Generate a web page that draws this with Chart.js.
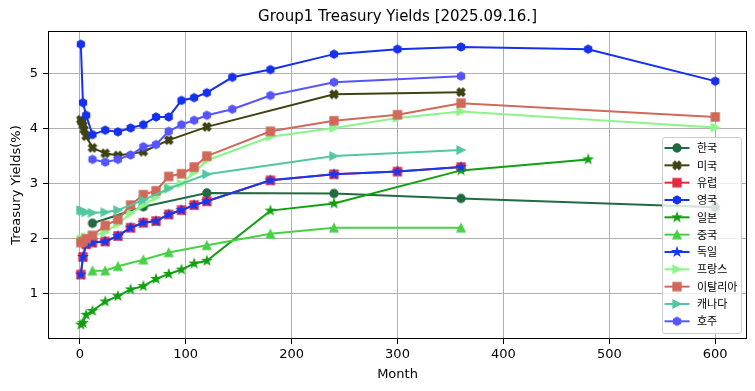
<!DOCTYPE html>
<html><head><meta charset="utf-8">
<script src="https://cdn.jsdelivr.net/npm/chart.js@4.4.1/dist/chart.umd.min.js"></script>
<style>html,body{margin:0;padding:0;background:#fff;}canvas{display:block;}</style>
</head><body>
<canvas id="c" width="755" height="391"></canvas>
<script>
// ---------------- DATA ----------------
const seriesNames = ['한국','미국','유럽','영국','일본','중국','독일','프랑스','이탈리아','캐나다','호주'];

const koreaMonths = [12, 60, 120, 240, 360, 600];
const koreaYields = [2.28, 2.58, 2.83, 2.82, 2.73, 2.57];

const usMonths = [1, 2, 3, 4, 6, 12, 24, 36, 60, 84, 120, 240, 360];
const usYields = [4.16, 4.12, 4.06, 3.98, 3.86, 3.65, 3.55, 3.51, 3.58, 3.79, 4.03, 4.62, 4.66];

const euroMonths = [1, 3, 6, 12, 24, 36, 48, 60, 72, 84, 96, 108, 120, 180, 240, 300, 360];
const euroYields = [1.35, 1.67, 1.90, 1.93, 1.95, 2.05, 2.20, 2.29, 2.32, 2.44, 2.52, 2.61, 2.68, 3.06, 3.17, 3.22, 3.30];

const ukMonths = [1, 3, 6, 12, 24, 36, 48, 60, 72, 84, 96, 108, 120, 144, 180, 240, 300, 360, 480, 600];
const ukYields = [5.53, 4.47, 4.24, 3.89, 3.97, 3.94, 4.01, 4.07, 4.21, 4.21, 4.51, 4.56, 4.65, 4.93, 5.07, 5.35, 5.44, 5.48, 5.44, 4.86];

const japanMonths = [1, 3, 6, 12, 24, 36, 48, 60, 72, 84, 96, 108, 120, 180, 240, 360, 480];
const japanYields = [0.44, 0.47, 0.62, 0.69, 0.86, 0.96, 1.08, 1.14, 1.27, 1.36, 1.44, 1.55, 1.60, 2.51, 2.64, 3.24, 3.44];

const chinaMonths = [12, 24, 36, 60, 84, 120, 180, 240, 360];
const chinaYields = [1.42, 1.42, 1.50, 1.62, 1.75, 1.88, 2.09, 2.20, 2.20];

const germanyMonths = [1, 3, 6, 12, 24, 36, 48, 60, 72, 84, 96, 108, 120, 180, 240, 300, 360];
const germanyYields = [1.35, 1.67, 1.90, 1.93, 1.95, 2.05, 2.20, 2.29, 2.32, 2.44, 2.52, 2.61, 2.68, 3.06, 3.17, 3.22, 3.30];

const franceMonths = [1, 3, 6, 12, 24, 36, 48, 60, 72, 84, 96, 108, 120, 180, 240, 300, 360, 600];
const franceYields = [1.98, 2.00, 2.03, 2.06, 2.12, 2.27, 2.46, 2.61, 2.75, 2.93, 3.00, 3.20, 3.42, 3.85, 4.01, 4.19, 4.31, 4.02];

const italyMonths = [1, 3, 6, 12, 24, 36, 48, 60, 72, 84, 96, 108, 120, 180, 240, 300, 360, 600];
const italyYields = [1.93, 1.95, 2.00, 2.06, 2.24, 2.35, 2.61, 2.80, 2.87, 3.13, 3.18, 3.30, 3.50, 3.95, 4.14, 4.25, 4.46, 4.21];

const canadaMonths = [1, 3, 6, 12, 24, 36, 60, 84, 120, 240, 360];
const canadaYields = [2.52, 2.50, 2.48, 2.47, 2.48, 2.52, 2.70, 2.91, 3.17, 3.50, 3.61];

const australiaMonths = [12, 24, 36, 48, 60, 72, 84, 96, 108, 120, 144, 180, 240, 360];
const australiaYields = [3.44, 3.39, 3.44, 3.52, 3.67, 3.71, 3.95, 4.07, 4.15, 4.24, 4.35, 4.60, 4.84, 4.95];

const xTickValues = [0, 100, 200, 300, 400, 500, 600];
const yTickValues = [1, 2, 3, 4, 5];

// ---------------- STYLE ----------------
const seriesData = [
  [koreaMonths, koreaYields], [usMonths, usYields], [euroMonths, euroYields],
  [ukMonths, ukYields], [japanMonths, japanYields], [chinaMonths, chinaYields],
  [germanyMonths, germanyYields], [franceMonths, franceYields], [italyMonths, italyYields],
  [canadaMonths, canadaYields], [australiaMonths, australiaYields]
];
const seriesStyles = [
  {color:'#226b42', shape:'circle'},
  {color:'#3f4313', shape:'xfilled'},
  {color:'#e8283f', shape:'square'},
  {color:'#1530ee', shape:'hexagon'},
  {color:'#10a010', shape:'star'},
  {color:'#47d147', shape:'triup'},
  {color:'#1638f0', shape:'star'},
  {color:'#8af58a', shape:'triright'},
  {color:'#d0695a', shape:'square'},
  {color:'#52c7a0', shape:'triright'},
  {color:'#5555ff', shape:'hexagon'}
];

function makeMarker(shape, color){
  const S = 16, c = S/2, m = 8; // m = marker size in px
  const cv = document.createElement('canvas');
  cv.width = S; cv.height = S;
  const g = cv.getContext('2d');
  g.translate(c, c);
  g.beginPath();
  const h = m/2;
  if (shape === 'circle') {
    g.arc(0, 0, h, 0, Math.PI*2);
  } else if (shape === 'square') {
    g.rect(-h, -h, m, m);
  } else if (shape === 'hexagon') {
    for (let k=0;k<6;k++){ const a = -Math.PI/2 + k*Math.PI/3; const px=h*Math.cos(a), py=h*Math.sin(a); k?g.lineTo(px,py):g.moveTo(px,py); }
    g.closePath();
  } else if (shape === 'triup') {
    g.moveTo(0,-h); g.lineTo(h,h); g.lineTo(-h,h); g.closePath();
  } else if (shape === 'triright') {
    g.moveTo(h,0); g.lineTo(-h,h); g.lineTo(-h,-h); g.closePath();
  } else if (shape === 'star') {
    const ro = h*1.05, ri = ro*0.381966;
    for (let k=0;k<10;k++){ const r = k%2?ri:ro; const a = -Math.PI/2 + k*Math.PI/5; const px=r*Math.cos(a), py=r*Math.sin(a); k?g.lineTo(px,py):g.moveTo(px,py); }
    g.closePath();
  } else if (shape === 'xfilled') {
    const v = [[0.25,0],[0.5,0.25],[0.75,0],[1,0.25],[0.75,0.5],[1,0.75],[0.75,1],[0.5,0.75],[0.25,1],[0,0.75],[0.25,0.5],[0,0.25]];
    v.forEach((p,k)=>{ const px=(p[0]-0.5)*m, py=(p[1]-0.5)*m; k?g.lineTo(px,py):g.moveTo(px,py); });
    g.closePath();
  }
  g.fillStyle = color; g.fill();
  g.strokeStyle = color; g.lineWidth = 1.3; g.lineJoin = 'miter'; g.stroke();
  return cv;
}

const N = seriesNames.length;
const datasets = seriesNames.map((name, i) => ({
  label: name,
  data: seriesData[i][0].map((m, j) => ({x: m, y: seriesData[i][1][j]})),
  borderColor: seriesStyles[i].color,
  backgroundColor: seriesStyles[i].color,
  borderWidth: 2,
  pointStyle: makeMarker(seriesStyles[i].shape, seriesStyles[i].color),
  pointRadius: 5,
  pointHoverRadius: 5,
  tension: 0,
  fill: false,
  order: N - i
}));

const framePlugin = {
  id: 'frameAndLegend',
  afterDraw(chart) {
    const ctx = chart.ctx, a = chart.chartArea;
    ctx.save();
    // axes frame
    ctx.strokeStyle = '#000'; ctx.lineWidth = 1;
    ctx.strokeRect(Math.round(a.left)+0.5, Math.round(a.top)+0.5, Math.round(a.right)-Math.round(a.left)-1, Math.round(a.bottom)-Math.round(a.top)-1);
    // legend
    const bw = 79, bh = 196;
    const bx = Math.round(a.right) - 6 - bw + 0.5, by = Math.round(a.bottom) - 6 - bh + 0.5;
    const r = 2.5;
    ctx.beginPath();
    ctx.moveTo(bx+r, by); ctx.lineTo(bx+bw-r, by); ctx.quadraticCurveTo(bx+bw, by, bx+bw, by+r);
    ctx.lineTo(bx+bw, by+bh-r); ctx.quadraticCurveTo(bx+bw, by+bh, bx+bw-r, by+bh);
    ctx.lineTo(bx+r, by+bh); ctx.quadraticCurveTo(bx, by+bh, bx, by+bh-r);
    ctx.lineTo(bx, by+r); ctx.quadraticCurveTo(bx, by, bx+r, by);
    ctx.closePath();
    ctx.fillStyle = 'rgba(255,255,255,0.8)'; ctx.fill();
    ctx.strokeStyle = '#cccccc'; ctx.lineWidth = 1; ctx.stroke();
    chart.data.datasets.forEach((ds, i) => {
      const y = by + 10.5 + i * 17.33;
      ctx.strokeStyle = ds.borderColor; ctx.lineWidth = 2;
      ctx.beginPath(); ctx.moveTo(bx + 2, y); ctx.lineTo(bx + 27, y); ctx.stroke();
      const img = ds.pointStyle;
      ctx.drawImage(img, bx + 14.5 - img.width/2, y - img.height/2);
      ctx.fillStyle = '#000'; ctx.font = '11px "Noto Sans CJK KR"';
      ctx.textBaseline = 'middle'; ctx.textAlign = 'left';
      ctx.fillText(ds.label, bx + 34.5, y);
    });
    ctx.restore();
  }
};

Chart.defaults.font.family = 'DejaVu Sans';
Chart.defaults.color = '#000';

new Chart(document.getElementById('c'), {
  type: 'line',
  data: { datasets },
  options: {
    responsive: false,
    animation: false,
    devicePixelRatio: 1,
    layout: { padding: { left: 0, right: 8, top: 0, bottom: 0 } },
    plugins: {
      legend: { display: false },
      tooltip: { enabled: false },
      title: {
        display: true, fullSize: false,
        text: 'Group1 Treasury Yields [2025.09.16.]',
        color: '#000',
        font: { size: 15, weight: 'normal', family: 'DejaVu Sans' },
        padding: { top: 8, bottom: 5 }
      }
    },
    scales: {
      x: {
        type: 'linear', min: -30, max: 630,
        afterFit: s => { s.height = 52; },
        afterBuildTicks: s => { s.ticks = xTickValues.map(v => ({value: v})); },
        grid: { color: '#b0b0b0', lineWidth: 1, tickLength: 5, tickColor: '#000', drawTicks: true },
        border: { display: false },
        ticks: { color: '#000', font: { size: 13 }, padding: 3, maxRotation: 0, autoSkip: false },
        title: { display: true, text: 'Month', color: '#000', font: { size: 13 }, padding: { top: 0, bottom: 9 } }
      },
      y: {
        type: 'linear', min: 0.18, max: 5.77,
        afterFit: s => { s.width = 48; },
        afterBuildTicks: s => { s.ticks = yTickValues.map(v => ({value: v})); },
        grid: { color: '#b0b0b0', lineWidth: 1, tickLength: 5, tickColor: '#000', drawTicks: true },
        border: { display: false },
        ticks: { color: '#000', font: { size: 13 }, padding: 5, autoSkip: false },
        title: { display: true, text: 'Treasury Yields(%)', color: '#000', font: { size: 13 }, padding: { top: 9, bottom: 0 } }
      }
    }
  },
  plugins: [framePlugin]
});
</script>
</body></html>
